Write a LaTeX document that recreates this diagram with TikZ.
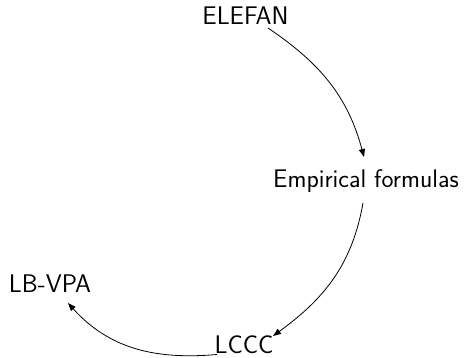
\documentclass[tikz,border=0pt]{standalone}
\usetikzlibrary{arrows.meta,calc}
\begin{document}
\begin{tikzpicture}[x=1pt,y=1pt,
  lbl/.style={inner sep=0pt, anchor=base, font=\sffamily\fontsize{25.5}{30}\selectfont},
  arr/.style={line width=0.8pt, -{Triangle[length=8pt,width=6pt]}}]
\useasboundingbox (0,0) rectangle (464,358);
\node[lbl] (elefan) at (245.5,333) {ELEFAN};
\node[lbl] (emp) at (366,170) {Empirical formulas};
\node[lbl] (lbvpa) at (50,65) {LB-VPA};
\node[lbl] (lccc) at (244,4.5) {LCCC};
\coordinate (a1s) at ($(elefan.base)+(22.5,-3)$);
\coordinate (a1e) at ($(emp.base)+(-2,31)$);
\coordinate (a2s) at ($(emp.base)+(-3,-15)$);
\coordinate (a2e) at ($(lccc.base)+(29,17.5)$);
\coordinate (a3s) at ($(lccc.base)+(-27,-1)$);
\coordinate (a3e) at ($(lbvpa.base)+(18,-10)$);
\draw[arr] (a1s) to[out=-34,in=105] (a1e);
\draw[arr] (a2s) to[out=-100,in=36] (a2e);
\draw[arr] (a3s) to[out=185,in=-48] (a3e);
\end{tikzpicture}
\end{document}
